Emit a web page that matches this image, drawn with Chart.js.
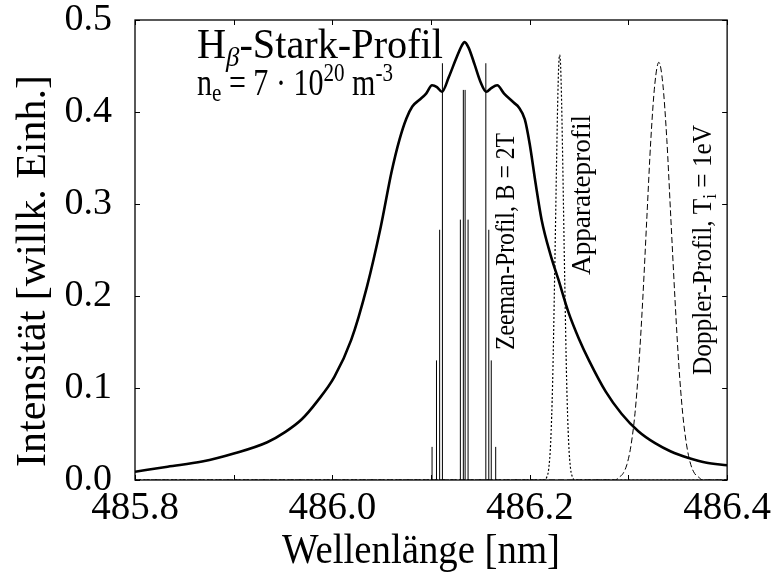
<!DOCTYPE html>
<html>
<head>
<meta charset="utf-8">
<script src="https://cdn.jsdelivr.net/npm/chart.js@4.4.1/dist/chart.umd.min.js"></script>
<style>
  html, body { margin: 0; padding: 0; background: #fff; }
  #wrap { width: 776px; height: 576px; }
</style>
</head>
<body>
<div id="wrap"><canvas id="starkChart" width="776" height="576"></canvas></div>
<script>
// ===== DATA =====
const starkX = [485.800, 485.833, 485.868, 485.901, 485.934, 485.952, 485.969, 485.985, 486.002, 486.019,
  486.035, 486.049, 486.060, 486.068, 486.075, 486.081, 486.088, 486.095, 486.101, 486.106,
  486.111, 486.118, 486.125, 486.131, 486.134, 486.138, 486.144, 486.150, 486.156, 486.161,
  486.167, 486.174, 486.184, 486.189, 486.195, 486.200, 486.206, 486.212, 486.221, 486.229,
  486.239, 486.250, 486.260, 486.277, 486.293, 486.310, 486.327, 486.343, 486.361, 486.378, 486.400];
const starkY = [0.009, 0.0145, 0.020, 0.029, 0.041, 0.052, 0.066, 0.086, 0.112, 0.152,
  0.210, 0.275, 0.335, 0.370, 0.393, 0.406, 0.413, 0.420, 0.429, 0.427,
  0.422, 0.438, 0.457, 0.472, 0.476, 0.470, 0.452, 0.433, 0.422, 0.426,
  0.429, 0.420, 0.410, 0.405, 0.392, 0.365, 0.322, 0.283, 0.245, 0.218,
  0.183, 0.153, 0.130, 0.096, 0.072, 0.053, 0.040, 0.031, 0.024, 0.019, 0.016];

const zeemanX = [486.1010, 486.1055, 486.1087, 486.1115, 486.1297, 486.1327,
  486.1345, 486.1375, 486.1555, 486.1585, 486.1610, 486.1655];
const zeemanY = [0.036, 0.130, 0.272, 0.453, 0.283, 0.424, 0.424, 0.283, 0.453, 0.272, 0.130, 0.036];

const apparatX = [485.800, 486.2151, 486.2172, 486.2192, 486.2212, 486.2232, 486.2252, 486.2273, 486.2283,
  486.2293, 486.2303, 486.2313, 486.2323, 486.2333, 486.2354, 486.2374, 486.2394, 486.2414,
  486.2434, 486.2455, 486.400];
const apparatY = [0, 0, 0.003, 0.012, 0.041, 0.107, 0.220, 0.353, 0.410,
  0.449, 0.462, 0.449, 0.410, 0.353, 0.220, 0.107, 0.041, 0.012,
  0.003, 0, 0];

const dopplerX = [485.800, 486.2864, 486.2904, 486.2945, 486.2985, 486.3025, 486.3066, 486.3106, 486.3147,
  486.3187, 486.3227, 486.3268, 486.3308, 486.3348, 486.3389, 486.3429, 486.3470, 486.3510,
  486.3550, 486.3591, 486.3631, 486.3671, 486.3712, 486.3752, 486.400];
const dopplerY = [0, 0, 0.003, 0.007, 0.017, 0.037, 0.072, 0.126, 0.200,
  0.286, 0.370, 0.431, 0.454, 0.431, 0.370, 0.286, 0.200, 0.126,
  0.072, 0.037, 0.017, 0.007, 0.003, 0, 0];

const xTickValues = [485.8, 485.9, 486.0, 486.1, 486.2, 486.3, 486.4];
const yTickValues = [0, 0.1, 0.2, 0.3, 0.4, 0.5];

const serif = '"Liberation Serif", "DejaVu Serif", serif';

function toPoints(xs, ys) {
  return xs.map((x, i) => ({ x: x, y: ys[i] }));
}

// each Zeeman component is its own vertical stroke, broken by a null point
function zeemanPoints() {
  const pts = [];
  zeemanX.forEach((x, i) => {
    pts.push({ x: x, y: 0 }, { x: x, y: zeemanY[i] }, { x: x, y: null });
  });
  return pts;
}

function part(text, size, opts = {}) {
  return { text: text, font: (opts.style || '') + ' ' + size + 'px ' + serif, dy: opts.dy || 0 };
}

// draws a run of text parts, squeezed/stretched horizontally to a given width
function drawParts(ctx, parts, x, y, angle, width) {
  ctx.save();
  ctx.translate(x, y);
  ctx.rotate(angle);
  let total = 0;
  parts.forEach(p => { ctx.font = p.font; total += ctx.measureText(p.text).width; });
  ctx.scale(width / total, 1);
  ctx.fillStyle = '#000';
  ctx.textAlign = 'left';
  ctx.textBaseline = 'alphabetic';
  let cx = 0;
  parts.forEach(p => {
    ctx.font = p.font;
    ctx.fillText(p.text, cx, p.dy);
    cx += ctx.measureText(p.text).width;
  });
  ctx.restore();
}

/* ===============================
   FRAME + INWARD TICKS
   =============================== */
const framePlugin = {
  id: 'frame',
  afterDatasetsDraw(chart) {
    const { ctx, chartArea: a, scales } = chart;
    const len = 5;
    ctx.save();
    ctx.strokeStyle = '#000';
    ctx.lineWidth = 1;
    ctx.beginPath();
    xTickValues.forEach(v => {
      const px = Math.round(scales.x.getPixelForValue(v)) + 0.5;
      ctx.moveTo(px, a.bottom); ctx.lineTo(px, a.bottom - len);
      ctx.moveTo(px, a.top); ctx.lineTo(px, a.top + len);
    });
    yTickValues.forEach(v => {
      const py = Math.round(scales.y.getPixelForValue(v)) + 0.5;
      ctx.moveTo(a.left, py); ctx.lineTo(a.left + len, py);
      ctx.moveTo(a.right, py); ctx.lineTo(a.right - len, py);
    });
    ctx.stroke();
    ctx.lineWidth = 1.3;
    ctx.strokeRect(a.left, a.top, a.right - a.left, a.bottom - a.top);
    ctx.restore();
  }
};

/* ===============================
   TITLES + ANNOTATIONS
   =============================== */
const textPlugin = {
  id: 'texts',
  afterDraw(chart) {
    const ctx = chart.ctx;
    const up = -Math.PI / 2;

    drawParts(ctx, [part('H', 42), part('\u03B2', 28, { style: 'italic', dy: 8 }), part('-Stark-Profil', 42)],
      197, 58, 0, 246);
    drawParts(ctx, [part('n', 37), part('e', 26, { dy: 6 }), part(' = 7 \u00B7 10', 37),
      part('20', 26, { dy: -14 }), part(' m', 37), part('-3', 26, { dy: -14 })],
      197, 95, 0, 196);

    drawParts(ctx, [part('Intensit\u00E4t [willk. Einh.]', 42)], 45, 467, up, 392);
    drawParts(ctx, [part('Wellenl\u00E4nge [nm]', 42)], 282, 563, 0, 278);

    drawParts(ctx, [part('Zeeman-Profil, B = 2T', 28)], 514, 350, up, 217);
    drawParts(ctx, [part('Apparateprofil', 28)], 590, 275, up, 160);
    drawParts(ctx, [part('Doppler-Profil, T', 28), part('i', 19, { dy: 5 }), part(' = 1eV', 28)],
      711, 375, up, 250);
  }
};

const ctx = document.getElementById('starkChart');

new Chart(ctx, {
  type: 'line',
  data: {
    datasets: [
      {
        label: 'Zeeman',
        data: zeemanPoints(),
        borderColor: '#000',
        borderWidth: 1,
        pointRadius: 0,
        spanGaps: false,
        tension: 0
      },
      {
        label: 'Apparateprofil',
        data: toPoints(apparatX, apparatY),
        borderColor: '#000',
        borderWidth: 1.2,
        borderDash: [2, 2],
        pointRadius: 0,
        cubicInterpolationMode: 'monotone'
      },
      {
        label: 'Doppler',
        data: toPoints(dopplerX, dopplerY),
        borderColor: '#000',
        borderWidth: 1,
        borderDash: [6, 3],
        pointRadius: 0,
        cubicInterpolationMode: 'monotone'
      },
      {
        label: 'Stark',
        data: toPoints(starkX, starkY),
        borderColor: '#000',
        borderWidth: 2.6,
        pointRadius: 0,
        cubicInterpolationMode: 'monotone'
      }
    ]
  },
  options: {
    responsive: false,
    animation: false,
    devicePixelRatio: 1,
    layout: { padding: { top: 20, right: 47, left: 0, bottom: 0 } },
    plugins: {
      legend: { display: false },
      tooltip: { enabled: false }
    },
    scales: {
      x: {
        type: 'linear',
        min: 485.8,
        max: 486.4,
        afterFit: scale => { scale.height = 96; },
        afterBuildTicks: scale => { scale.ticks = xTickValues.map(v => ({ value: v })); },
        grid: { display: false, drawTicks: false },
        border: { display: false },
        ticks: {
          padding: 5,
          maxRotation: 0,
          autoSkip: false,
          color: '#000',
          font: { family: serif, size: 39 },
          callback: v => (Math.round(v * 10) % 2 === 0 ? v.toFixed(1) : '')
        }
      },
      y: {
        min: 0,
        max: 0.5,
        afterFit: scale => {
          scale.width = 135;
          // keep the plot box where the reference has it
          scale.paddingTop = 0;
          scale.paddingBottom = 0;
        },
        afterBuildTicks: scale => { scale.ticks = yTickValues.map(v => ({ value: v })); },
        grid: { display: false, drawTicks: false },
        border: { display: false },
        ticks: {
          padding: 23,
          color: '#000',
          font: { family: serif, size: 38 },
          callback: v => v.toFixed(1)
        }
      }
    }
  },
  plugins: [framePlugin, textPlugin]
});
</script>
</body>
</html>
